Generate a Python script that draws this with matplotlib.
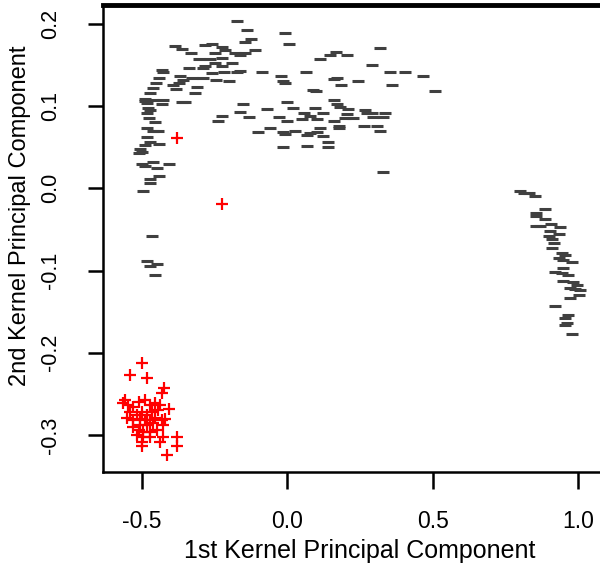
import numpy as np
import matplotlib.pyplot as plt

# class 1 (black dashes), left arc
arc_x = [-0.174, -0.137, -0.007, -0.125, -0.144, 0.005, -0.385, -0.363, -0.282, -0.259,
         -0.225, -0.214, -0.179, -0.145, -0.111, -0.332, -0.248, -0.162, 0.317, 0.166,
         0.147, 0.204, 0.111, -0.303, -0.265, -0.225, -0.191, -0.248, -0.282, -0.288,
         -0.225, -0.431, -0.426, -0.336, 0.290, -0.088, -0.162, -0.174, -0.219, -0.259,
         0.064, 0.353, 0.405, 0.468, -0.439, -0.368, -0.328, -0.288, -0.245, -0.200,
         -0.357, -0.021, -0.013, -0.007, 0.159, 0.172, 0.242, -0.451, -0.391, -0.371,
         0.185, 0.360, -0.462, -0.382, -0.311, 0.090, 0.099, 0.508, -0.471, -0.317,
         -0.489, -0.489, -0.483, -0.460, -0.426, -0.431, -0.363, -0.351, -0.151, -0.002,
         0.159, 0.170, -0.477, -0.471, -0.070, 0.021, 0.096, 0.182, 0.210, 0.268,
         -0.162, -0.225, -0.483, -0.474, -0.454, -0.237, -0.130, -0.027, -0.002, 0.056,
         0.078, 0.050, 0.101, 0.124, 0.159, 0.204, 0.199, 0.227, 0.273, 0.290,
         0.296, 0.336, 0.330, -0.483, -0.460, -0.443, -0.483, -0.471, -0.439, -0.059,
         -0.099, -0.013, -0.007, 0.027, 0.078, 0.067, 0.113, 0.101, 0.124, 0.179,
         0.179, 0.262, 0.308, 0.319, 0.141, 0.141, 0.069, -0.016, -0.489, -0.506,
         -0.500, -0.511, -0.500, -0.489, -0.460, -0.446, -0.408, -0.439, -0.471, -0.471,
         -0.494, 0.330, -0.466, -0.483, -0.446, -0.471, -0.454]
arc_y = [0.2035, 0.192, 0.189, 0.182, 0.178, 0.176, 0.1735, 0.170, 0.174, 0.176,
         0.172, 0.168, 0.165, 0.165, 0.168, 0.164, 0.165, 0.162, 0.171, 0.166,
         0.162, 0.162, 0.157, 0.157, 0.157, 0.159, 0.153, 0.152, 0.149, 0.146,
         0.149, 0.144, 0.142, 0.146, 0.150, 0.1415, 0.143, 0.141, 0.1415, 0.140,
         0.1415, 0.1415, 0.1415, 0.137, 0.1346, 0.137, 0.1346, 0.1346, 0.132, 0.1305,
         0.132, 0.137, 0.131, 0.1285, 0.1326, 0.1346, 0.1305, 0.1277, 0.1257, 0.1277,
         0.1253, 0.1253, 0.1216, 0.1208, 0.1228, 0.1196, 0.1188, 0.1188, 0.1155, 0.1155,
         0.1086, 0.1062, 0.1034, 0.1074, 0.1074, 0.1026, 0.1054, 0.1046, 0.1026, 0.1046,
         0.1074, 0.1026, 0.0973, 0.0953, 0.0961, 0.0981, 0.0981, 0.0993, 0.0969, 0.0953,
         0.0932, 0.0884, 0.0912, 0.0851, 0.0811, 0.0819, 0.0863, 0.0863, 0.0819, 0.0912,
         0.0884, 0.0843, 0.0839, 0.092, 0.0823, 0.090, 0.0851, 0.0851, 0.0912, 0.0912,
         0.0871, 0.0912, 0.0863, 0.073, 0.0697, 0.0697, 0.0628, 0.0567, 0.0539, 0.073,
         0.0681, 0.0681, 0.066, 0.0701, 0.0669, 0.0648, 0.073, 0.0681, 0.0636, 0.0758,
         0.073, 0.0762, 0.0762, 0.0701, 0.0567, 0.0498, 0.0519, 0.0498, 0.0527, 0.0474,
         0.0446, 0.0425, 0.0296, 0.0275, 0.0316, 0.0251, 0.0296, 0.0154, 0.0109, 0.006,
         -0.0029, 0.0198, -0.0576, -0.088, -0.0921, -0.0945, -0.1059]

# class 2 (black dashes), right streak
streak_x = [0.798, 0.812, 0.829, 0.852, 0.886, 0.854, 0.854, 0.886, 0.854, 0.869,
            0.907, 0.938, 0.903, 0.932, 0.898, 0.909, 0.915, 0.909, 0.943, 0.955,
            0.932, 0.949, 0.978, 0.949, 0.920, 0.943, 0.966, 0.949, 0.983, 0.995,
            0.972, 0.989, 1.006, 1.001, 0.972, 0.920, 0.966, 0.955, 0.960, 0.955,
            0.978]
streak_y = [-0.003, -0.0061, -0.0053, -0.0094, -0.0256, -0.0296, -0.0337, -0.0378, -0.0459, -0.0459,
            -0.0438, -0.0475, -0.0515, -0.0556, -0.058, -0.0621, -0.0661, -0.0722, -0.0791, -0.0811,
            -0.0852, -0.0872, -0.0901, -0.0974, -0.1014, -0.1034, -0.1059, -0.1128, -0.1136, -0.1176,
            -0.1217, -0.1229, -0.1237, -0.1298, -0.1339, -0.1428, -0.1541, -0.1582, -0.1635, -0.1663,
            -0.1773]

# class 3 (red crosses)
red_x = [-0.380, -0.223, -0.500, -0.540, -0.483, -0.423, -0.431, -0.557, -0.563, -0.546,
         -0.529, -0.511, -0.489, -0.471, -0.454, -0.437, -0.443, -0.408, -0.540, -0.517,
         -0.500, -0.483, -0.466, -0.551, -0.529, -0.506, -0.489, -0.471, -0.454, -0.431,
         -0.420, -0.529, -0.506, -0.483, -0.460, -0.426, -0.511, -0.494, -0.471, -0.449,
         -0.517, -0.494, -0.471, -0.426, -0.380, -0.437, -0.500, -0.500, -0.380, -0.414]
red_y = [0.0616, -0.0191, -0.213, -0.227, -0.231, -0.2434, -0.2494, -0.2575, -0.2616, -0.2636,
         -0.2657, -0.2596, -0.2575, -0.2636, -0.2616, -0.2636, -0.2697, -0.2689, -0.2717, -0.2758,
         -0.2717, -0.2758, -0.2717, -0.2798, -0.2819, -0.281, -0.2819, -0.2819, -0.2798, -0.2819,
         -0.281, -0.290, -0.288, -0.288, -0.286, -0.288, -0.294, -0.296, -0.296, -0.294,
         -0.300, -0.302, -0.302, -0.302, -0.302, -0.308, -0.308, -0.314, -0.314, -0.324]

x_ticks = [-0.5, 0.0, 0.5, 1.0]
y_ticks = [-0.3, -0.2, -0.1, 0.0, 0.1, 0.2]


def main():
    plt.rcParams['font.family'] = ['Liberation Sans', 'DejaVu Sans']
    fig = plt.figure(figsize=(6.0, 5.73), dpi=100)
    ax = fig.add_axes([0.1717, 0.1763, 0.845, 0.815])

    dash = dict(linestyle='none', marker='_', markersize=8, markeredgewidth=2.2,
                color='#404040')
    ax.plot(arc_x, arc_y, **dash)
    ax.plot(streak_x, streak_y, **dash)
    ax.plot(red_x, red_y, linestyle='none', marker='+', markersize=9,
            markeredgewidth=1.6, color='#ff0000')

    ax.set_xlim(-0.633, 1.109)
    ax.set_ylim(-0.345, 0.223)
    ax.set_xticks(x_ticks)
    ax.set_xticklabels([f"{v:.1f}" for v in x_ticks])
    ax.set_yticks(y_ticks)
    ax.set_yticklabels([f"{v:.1f}" for v in y_ticks], rotation=90, va='center')
    ax.tick_params(axis='both', direction='out', width=1.8, colors='black')
    ax.tick_params(axis='x', length=12.5, pad=15, labelsize=16.5)
    ax.tick_params(axis='y', length=11, pad=19, labelsize=15.5)

    ax.spines['right'].set_visible(False)
    ax.spines['top'].set_linewidth(3.5)
    ax.spines['left'].set_linewidth(1.8)
    ax.spines['bottom'].set_linewidth(1.8)

    ax.set_xlabel("1st Kernel Principal Component", fontsize=18, va='center')
    ax.xaxis.set_label_coords(0.507, -0.169)
    ax.set_ylabel("2nd Kernel Principal Component", fontsize=17, va='center')
    ax.yaxis.set_label_coords(-0.164, 0.548)

    fig.savefig("out.png", dpi=100)


if __name__ == '__main__':
    main()
